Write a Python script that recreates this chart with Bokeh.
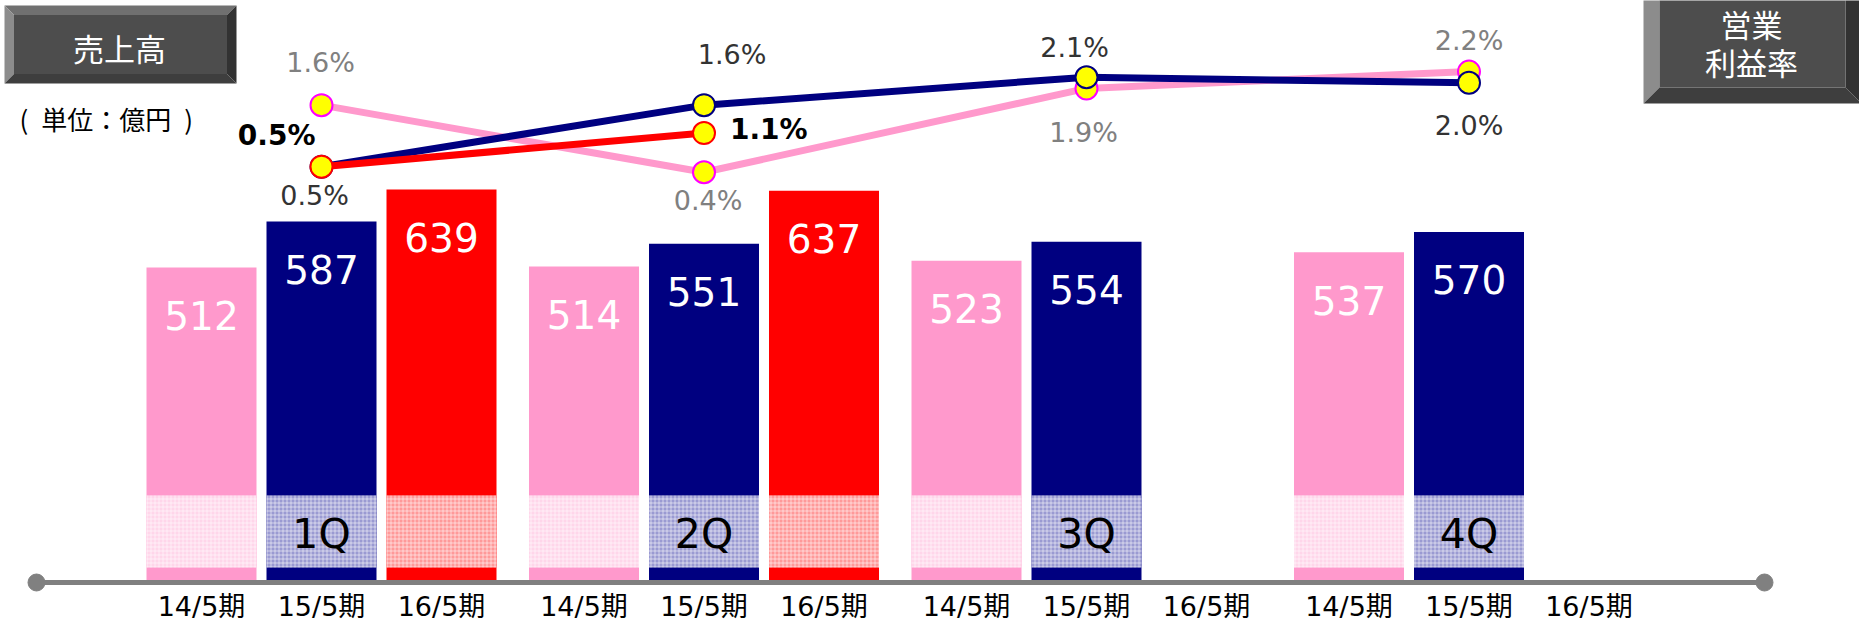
from bokeh.plotting import figure
from bokeh.models import ColumnDataSource, Range1d, LinearAxis, FixedTicker, CustomJSTickFormatter
from bokeh.core.properties import value
from bokeh.embed import file_html
from bokeh.resources import INLINE

# ---------------- data ----------------
periods = ["14/5期", "15/5期", "16/5期"]
quarters = ["1Q", "2Q", "3Q", "4Q"]
sales_14 = [512, 514, 523, 537]          # 売上高 (億円)
sales_15 = [587, 551, 554, 570]
sales_16 = [639, 637]
margin_14 = [1.6, 0.4, 1.9, 2.2]         # 営業利益率 (%)
margin_15 = [0.5, 1.6, 2.1, 2.0]
margin_16 = [0.5, 1.1]

# ---------------- layout / style ----------------
W, H = 1859, 624
SLOT_PX = 120.0          # pixels per slot
ORIGIN_PX = 141.0        # left edge of first slot
GROUP_GAP = 0.1875       # extra gap between quarters (slots)
BAR_W = 110 / 120
Y0_PX = 582.0            # baseline pixel
SALES_PX = 0.615         # px per 億円
PCT0_PX = 194.1          # px of 0 %
PCT_PX = 55.9            # px per %

def X(px):
    return (px - ORIGIN_PX) / SLOT_PX

def Y(py):
    return (Y0_PX - py) / SALES_PX

def P(py):
    return (PCT0_PX - py) / PCT_PX

def slot_x(g, i):
    return g * (3 + GROUP_GAP) + i + 0.5

FONT = "DejaVu Sans, Noto Sans CJK JP"
JFONT = "Noto Sans CJK JP"
bar_colors = ["#ff99cc", "#000080", "#ff0000"]
band_tints = ["#ffd6ea", "#9a9ad2", "#ff9999"]
BAND_LO, BAND_HI = Y(567), Y(495)

p = figure(width=W, height=H, x_range=Range1d(X(0), X(W)), y_range=Range1d(Y(H), Y(0)),
           output_backend="svg", toolbar_location=None,
           x_axis_location=None, y_axis_location=None, min_border=0,
           outline_line_color=None, background_fill_color="white")
p.xgrid.visible = False
p.ygrid.visible = False
p.extra_y_ranges = {"pct": Range1d(P(H), P(0))}

# ---------------- title boxes ----------------
def bevel_box(l, t, r, b, bw, cols):
    top = [[X(l), X(r), X(r - bw), X(l + bw)], [Y(t), Y(t), Y(t + bw), Y(t + bw)]]
    left = [[X(l), X(l + bw), X(l + bw), X(l)], [Y(t), Y(t + bw), Y(b - bw), Y(b)]]
    right = [[X(r), X(r), X(r - bw), X(r - bw)], [Y(t), Y(b), Y(b - bw), Y(t + bw)]]
    bottom = [[X(l), X(r), X(r - bw), X(l + bw)], [Y(b), Y(b), Y(b - bw), Y(b - bw)]]
    face = [[X(l + bw), X(r - bw), X(r - bw), X(l + bw)], [Y(t + bw), Y(t + bw), Y(b - bw), Y(b - bw)]]
    parts = [top, left, right, bottom, face]
    p.patches(xs=[q[0] for q in parts], ys=[q[1] for q in parts], fill_color=cols, line_color=None)

bev_cols = ["#707070", "#8c8c8c", "#323232", "#3e3e3e", "#4d4d4d"]
bevel_box(4, 5, 236, 83, 9.5, bev_cols)
bevel_box(1643, -20, 1861, 103, 16, bev_cols)

p.text(x=[X(119)], y=[Y(47)], text=["売上高"], text_color="white", text_align="center",
       text_baseline="middle", text_font=value(JFONT), text_font_size="31px")
p.text(x=[X(1751), X(1751)], y=[Y(23), Y(61)], text=["営業", "利益率"], text_color="white",
       text_align="center", text_baseline="middle", text_font=value(JFONT), text_font_size="31px")
p.text(x=[X(19)], y=[Y(118)], text=["(\u2002単位：億円\u2002)"], text_color="black", text_align="left",
       text_baseline="middle", text_font=value(JFONT), text_font_size="26px")

# ---------------- bars ----------------
bx, btop, bcol, btint, blab = [], [], [], [], []
for i, vals in enumerate([sales_14, sales_15, sales_16]):
    for g, v in enumerate(vals):
        bx.append(slot_x(g, i))
        btop.append(v)
        bcol.append(bar_colors[i])
        btint.append(band_tints[i])
        blab.append(str(v))
bars = ColumnDataSource(dict(x=bx, top=btop, color=bcol, tint=btint, label=blab))

p.vbar(x="x", top="top", bottom=0, width=BAR_W, fill_color="color", line_color=None, source=bars)
p.vbar(x="x", top=BAND_HI, bottom=BAND_LO, width=BAR_W, fill_color="tint", line_color=None,
       hatch_pattern="+", hatch_color="white", hatch_alpha=0.55, hatch_scale=4, hatch_weight=1,
       source=bars)
p.text(x="x", y="top", text="label", text_color="white", text_align="center", text_baseline="middle",
       y_offset=48, text_font=value(FONT), text_font_size="39px", source=bars)

# quarter labels on the middle bar of each group
p.text(x=[slot_x(g, 1) for g in range(len(quarters))], y=[Y(533)] * len(quarters), text=quarters,
       text_color="black", text_align="center", text_baseline="middle",
       text_font=value(FONT), text_font_size="41px")

# ---------------- x axis ----------------
tick_x = [slot_x(g, i) for g in range(len(quarters)) for i in range(len(periods))]
tick_labels = [periods[i] for g in range(len(quarters)) for i in range(len(periods))]
ax_bounds = (X(36), X(1764))
xaxis = LinearAxis(fixed_location=0, bounds=ax_bounds, ticker=FixedTicker(ticks=tick_x, minor_ticks=[]),
                   formatter=CustomJSTickFormatter(args=dict(labels=tick_labels), code="return labels[index];"),
                   axis_line_color="#808080", axis_line_width=5,
                   major_tick_line_color=None, minor_tick_line_color=None,
                   major_tick_out=0, major_tick_in=0,
                   major_label_text_font=FONT, major_label_text_font_size="27px",
                   major_label_text_color="black", major_label_standoff=8)
p.add_layout(xaxis, "below")
p.scatter(x=list(ax_bounds), y=[0, 0], size=17, color="#808080")

# ---------------- margin lines ----------------
series = [
    # values, line colour, marker outline, label colour, bold, dx, dy, align
    (margin_14, "#ff99cc", "#ff00ff", "#808080", False,
     [-1, 4, -3, 0], [-43, 28, 44, -31], ["center"] * 4),
    (margin_15, "#000080", "#000080", "#333333", False,
     [-7, 28, -12, 0], [29, -51, -30, 43], ["center"] * 4),
    (margin_16, "#ff0000", "#ff0000", "#000000", True,
     [-6, 26], [-31, -4], ["right", "left"]),
]
for vals, lc, oc, tc, bold, dx, dy, al in series:
    src = ColumnDataSource(dict(
        x=[slot_x(g, 1) for g in range(len(vals))], y=vals,
        label=[f"{v:.1f}%" for v in vals], dx=dx, dy=dy, align=al))
    p.line("x", "y", y_range_name="pct", line_width=7, line_color=lc, source=src)
    p.scatter("x", "y", y_range_name="pct", size=22, fill_color="#ffff00", line_color=oc,
              line_width=2, source=src)
    p.text(x="x", y="y", text="label", x_offset="dx", y_offset="dy", text_align="align",
           text_baseline="middle", y_range_name="pct", text_color=tc,
           text_font=value(FONT), text_font_size="28px" if bold else "27px",
           text_font_style="bold" if bold else "normal", source=src)

open("out.html", "w").write(file_html(p, INLINE))
